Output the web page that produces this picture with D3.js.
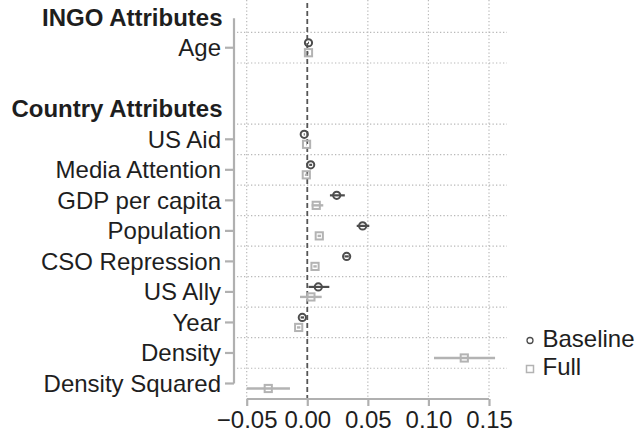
<!DOCTYPE html>
<html>
<head>
<meta charset="utf-8">
<script src="https://cdn.jsdelivr.net/npm/d3@7"></script>
<style>
  html, body { margin: 0; padding: 0; background: #fff; }
  svg { display: block; font-family: "Liberation Sans", Arial, Helvetica, sans-serif; }
</style>
</head>
<body>
<svg id="chart" width="636" height="435"></svg>
<script>
// Row layout: section headings, a spacer, and variable names
const rows = ["INGO Attributes", "Age", "__gap", "Country Attributes", "US Aid", "Media Attention",
  "GDP per capita", "Population", "CSO Repression", "US Ally", "Year", "Density", "Density Squared"];
const headings = ["INGO Attributes", "Country Attributes"];

// Baseline model: estimate and 95% interval
const baselineVars = ["Age", "US Aid", "Media Attention", "GDP per capita", "Population", "CSO Repression", "US Ally", "Year"];
const baselineEst  = [0.0010, -0.0025, 0.0028, 0.0243, 0.0457, 0.0325, 0.0091, -0.0041];
const baselineLo   = [0.0006, -0.0029, 0.0016, 0.0187, 0.0408, 0.0307, 0.0010, -0.0055];
const baselineHi   = [0.0014, -0.0021, 0.0040, 0.0310, 0.0512, 0.0343, 0.0182, -0.0027];

// Full model: estimate and 95% interval
const fullVars = ["Age", "US Aid", "Media Attention", "GDP per capita", "Population", "CSO Repression", "US Ally", "Year", "Density", "Density Squared"];
const fullEst  = [0.0010, -0.0006, -0.0008, 0.0074, 0.0099, 0.0064, 0.0030, -0.0071, 0.1296, -0.0322];
const fullLo   = [0.0006, -0.0010, -0.0020, 0.0036, 0.0085, 0.0050, -0.0060, -0.0085, 0.1046, -0.0500];
const fullHi   = [0.0014, -0.0002, 0.0004, 0.0132, 0.0113, 0.0078, 0.0119, -0.0057, 0.1550, -0.0143];

const xTicks = [-0.05, 0, 0.05, 0.10, 0.15];
const seriesNames = ["Baseline", "Full"];

const svg = d3.select("#chart");
const dark = "#4d4d4d", light = "#b3b3b3", axisGray = "#b0b0b0", textCol = "#1e1e1e";

const x = d3.scaleLinear().domain([-0.05, 0.15]).range([246.7, 489]);
const y = d3.scalePoint().domain(rows).range([17.2, 383.5]);
const step = y.step();

const plotLeft = 237, plotRight = 507, plotTop = 0, axisY = 399;

// Horizontal dotted gridlines between rows (not around the spacer)
const gridYs = [];
for (let i = 0; i < rows.length - 1; i++) {
  const a = rows[i], b = rows[i + 1];
  if (a === "__gap" && headings.includes(b)) continue;
  gridYs.push(y(a) + step / 2);
}
svg.append("g").selectAll("line").data(gridYs).join("line")
  .attr("x1", plotLeft).attr("x2", plotRight)
  .attr("y1", d => d).attr("y2", d => d)
  .attr("stroke", "#b8b8b8").attr("stroke-width", 1.2).attr("stroke-dasharray", "1.3,2.2");

// Vertical dotted gridlines at nonzero ticks
svg.append("g").selectAll("line").data(xTicks.filter(t => t !== 0)).join("line")
  .attr("x1", d => x(d)).attr("x2", d => x(d))
  .attr("y1", plotTop).attr("y2", axisY - 2)
  .attr("stroke", "#b8b8b8").attr("stroke-width", 1.2).attr("stroke-dasharray", "1.3,2.2");

// Reference line at zero
svg.append("line")
  .attr("x1", x(0)).attr("x2", x(0)).attr("y1", 3).attr("y2", axisY)
  .attr("stroke", "#555").attr("stroke-width", 1.8).attr("stroke-dasharray", "5,3");

// Y axis: spine with ticks at variable rows only
svg.append("line")
  .attr("x1", 234).attr("x2", 234).attr("y1", y(rows[0]) + 1).attr("y2", y("Density Squared"))
  .attr("stroke", axisGray).attr("stroke-width", 2.2);
const varRows = rows.filter(r => r !== "__gap" && !headings.includes(r));
svg.append("g").selectAll("line").data(varRows).join("line")
  .attr("x1", 225).attr("x2", 234)
  .attr("y1", d => y(d)).attr("y2", d => y(d))
  .attr("stroke", axisGray).attr("stroke-width", 2.2);

// Row labels
svg.append("g").selectAll("text").data(rows.filter(r => r !== "__gap")).join("text")
  .attr("x", d => headings.includes(d) ? 222.5 : 221)
  .attr("y", d => y(d))
  .attr("dy", "0.35em")
  .attr("text-anchor", "end")
  .attr("font-size", 24)
  .attr("font-weight", d => headings.includes(d) ? "bold" : "normal")
  .attr("fill", textCol)
  .text(d => d);

// X axis
const xAxis = svg.append("g").attr("transform", `translate(0,${axisY})`)
  .call(d3.axisBottom(x).tickValues(xTicks).tickSize(7).tickPadding(5)
    .tickFormat(d => d3.format(".2f")(d).replace("-", "\u2212")));
xAxis.select(".domain").attr("stroke", axisGray).attr("stroke-width", 2.2)
  .attr("d", `M${x(-0.05)},0H${x(0.15)}`);
xAxis.selectAll(".tick line").attr("stroke", axisGray).attr("stroke-width", 2.2);
xAxis.selectAll(".tick text").attr("font-size", 24).attr("fill", textCol)
  .attr("font-family", "Liberation Sans, Arial, sans-serif");

const off = 5;

// Full model intervals and markers
const fullData = fullVars.map((v, i) => ({ v, est: fullEst[i], lo: fullLo[i], hi: fullHi[i] }));
svg.append("g").selectAll("line").data(fullData).join("line")
  .attr("x1", d => x(d.lo)).attr("x2", d => x(d.hi))
  .attr("y1", d => y(d.v) + off).attr("y2", d => y(d.v) + off)
  .attr("stroke", light).attr("stroke-width", 2.4);
svg.append("g").selectAll("rect").data(fullData).join("rect")
  .attr("x", d => x(d.est) - 3.6).attr("y", d => y(d.v) + off - 3.6)
  .attr("width", 7.2).attr("height", 7.2)
  .attr("fill", "none").attr("stroke", light).attr("stroke-width", 2);

// Baseline model intervals and markers
const baseData = baselineVars.map((v, i) => ({ v, est: baselineEst[i], lo: baselineLo[i], hi: baselineHi[i] }));
svg.append("g").selectAll("line").data(baseData).join("line")
  .attr("x1", d => x(d.lo)).attr("x2", d => x(d.hi))
  .attr("y1", d => y(d.v) - off).attr("y2", d => y(d.v) - off)
  .attr("stroke", dark).attr("stroke-width", 2.2);
svg.append("g").selectAll("circle").data(baseData).join("circle")
  .attr("cx", d => x(d.est)).attr("cy", d => y(d.v) - off)
  .attr("r", 3.6)
  .attr("fill", "none").attr("stroke", dark).attr("stroke-width", 2);

// Legend
const legend = svg.append("g");
legend.append("circle").attr("cx", 530).attr("cy", 340.5).attr("r", 3)
  .attr("fill", "none").attr("stroke", dark).attr("stroke-width", 1.3);
legend.append("rect").attr("x", 526.5).attr("y", 365.5).attr("width", 7).attr("height", 7)
  .attr("fill", "none").attr("stroke", light).attr("stroke-width", 1.5);
legend.selectAll("text").data(seriesNames).join("text")
  .attr("x", 542.5).attr("y", (d, i) => 346.5 + i * 28.5)
  .attr("font-size", 24).attr("fill", textCol)
  .text(d => d);
</script>
</body>
</html>
